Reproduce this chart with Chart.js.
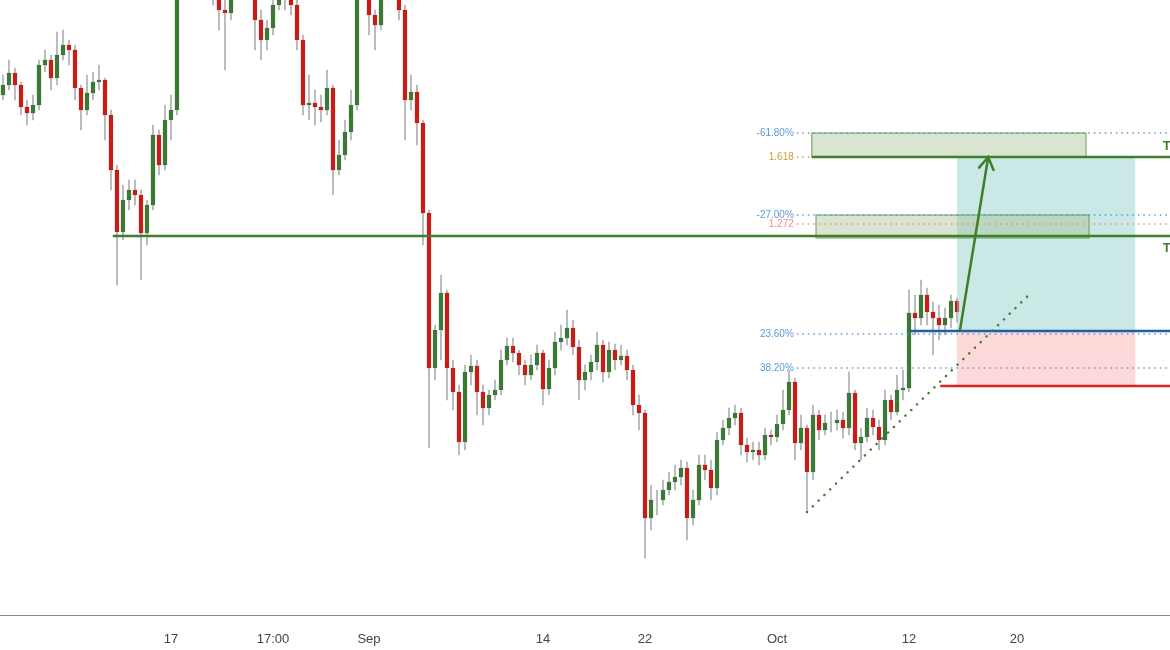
<!DOCTYPE html>
<html>
<head>
<meta charset="utf-8">
<script src="https://cdn.jsdelivr.net/npm/chart.js@4.4.0/dist/chart.umd.min.js"></script>
<style>
  body { margin: 0; background: #fff; overflow: hidden; }
  #outer { width: 1170px; height: 650px; overflow: hidden; }
  #wrap { width: 1182px; height: 650px; margin-left: -6px; }
</style>
</head>
<body>
<div id="outer"><div id="wrap"><canvas id="candles"></canvas></div></div>
<script>
// price data (points), one candle per slot
var opens = [605,615,627,615,593,587,595,635,640,622,645,655,650,612,590,607,618,620,585,530,
  468,500,510,505,467,495,565,535,580,590,730,740,755,745,730,720,705,690,687,705,
  725,735,715,680,660,672,695,710,705,695,660,595,597,593,590,612,530,545,568,595,
  720,730,685,675,710,730,720,690,600,608,577,487,332,370,407,332,308,258,328,334,
  308,292,305,310,340,354,347,335,325,335,347,311,332,358,362,372,353,320,328,338,
  355,328,350,340,344,330,295,287,182,200,200,210,218,223,232,182,200,235,230,212,
  260,272,282,287,255,248,250,245,265,263,276,290,318,257,272,228,285,270,277,277,
  280,272,307,257,263,282,273,260,300,288,310,312,387,382,405,388,382,375,382,399];
var closes = [615,627,615,593,587,595,635,640,622,645,655,650,612,590,607,618,620,585,530,468,
  500,510,505,467,495,565,535,580,590,730,740,755,745,730,720,705,690,687,705,725,
  735,715,680,660,672,695,710,705,695,660,595,597,593,590,612,530,545,568,595,720,
  730,685,675,710,730,720,690,600,608,577,487,332,370,407,332,308,258,328,334,308,
  292,305,310,340,354,347,335,325,335,347,311,332,358,362,372,353,320,328,338,355,
  328,350,340,344,330,295,287,182,200,200,210,218,223,232,182,200,235,230,212,260,
  272,282,287,255,248,250,245,265,263,276,290,318,257,272,228,285,270,277,277,280,
  272,307,257,263,282,273,260,300,288,310,312,387,382,405,388,382,375,382,399,388];
var highs = [625,640,632,618,600,605,640,650,645,668,670,660,655,615,625,628,635,622,590,535,
  515,520,520,510,500,575,570,595,605,740,755,770,765,750,735,725,710,700,712,735,
  745,740,720,690,680,705,720,718,712,700,665,625,610,605,630,615,560,580,610,735,
  745,735,690,720,740,738,725,695,625,615,580,490,375,425,410,340,315,335,345,340,
  315,310,320,350,362,362,350,340,345,355,350,340,368,375,390,380,360,335,345,368,
  360,358,356,355,350,335,305,290,215,210,220,228,235,240,238,210,245,245,240,268,
  280,292,295,292,262,258,258,272,270,285,310,330,322,285,275,295,290,285,288,290,
  288,328,310,272,292,290,280,310,305,325,330,410,405,420,412,398,395,392,405,402];
var lows = [600,610,600,585,575,580,590,628,610,615,640,635,600,570,585,600,610,560,510,415,
  460,490,495,420,455,490,525,530,560,585,720,735,735,720,710,695,670,630,680,700,
  715,705,650,640,650,665,690,690,685,650,585,580,575,578,585,505,525,540,560,590,
  715,665,650,670,700,710,680,560,590,555,455,252,320,340,300,290,245,250,315,285,
  275,285,300,305,335,338,325,315,320,330,295,305,325,350,355,345,300,310,320,330,
  318,322,330,335,320,285,270,142,170,185,195,205,210,215,160,175,195,220,200,205,
  255,265,275,245,238,240,235,240,255,258,270,285,240,250,190,220,260,265,268,270,
  262,265,250,240,258,265,250,255,280,285,300,308,365,375,375,345,360,365,372,378];

// x axis: 195 slots, only a few carry a label
var slotCount = 195;
var tickSlots = [28, 45, 61, 90, 107, 129, 151, 169];
var tickTexts = ['17', '17:00', 'Sep', '14', '22', 'Oct', '12', '20'];

// drawn levels (price) and their spans (slot index)
var supportLevel = 464, supportFrom = 18.3;
var targetLevel = 543, targetFrom = 134.8;
var fibBoxes = [[134.8, 180.5, 543, 567], [135.5, 181, 462, 485]];
var fibLines = [[567, '-61.80%', '#5b9bd5'], [485, '-27.00%', '#5b9bd5'], [476, '1.272', '#f08c8c'],
  [543, '1.618', '#c9a035'], [366, '23.60%', '#5b9bd5'], [332, '38.20%', '#5b9bd5']];
var entryLevel = 369, entryFrom = 151.2;
var stopLevel = 314, stopFrom = 156.2;
var tradeFrom = 159, tradeTo = 188.7;
var arrowPts = [[159.5, 370], [164.2, 543]];
var trendPts = [[134, 188], [170.8, 404]];

var labels = [];
for (var i = 0; i < slotCount; i++) labels.push('');
tickSlots.forEach(function (s, k) { labels[s] = tickTexts[k]; });

var wicks = opens.map(function (o, i) { return [lows[i], highs[i]]; });
var bodies = opens.map(function (o, i) { return [o, closes[i]]; });
var bodyColors = opens.map(function (o, i) { return closes[i] >= o ? '#3a7a35' : '#cc1a14'; });
var bodyBorders = opens.map(function (o, i) { return closes[i] >= o ? '#2a5c28' : '#8e1410'; });

var overlay = {
  id: 'overlay',
  afterDatasetsDraw: function (chart) {
    var c = chart.ctx, xs = chart.scales.x, ys = chart.scales.y, area = chart.chartArea;
    var X = function (v) { return xs.getPixelForValue(v); };
    var Y = function (v) { return ys.getPixelForValue(v); };
    var right = area.right + 6;
    c.save();
    // trade zones
    c.fillStyle = 'rgba(150,210,205,0.5)';
    c.fillRect(X(tradeFrom), Y(targetLevel), X(tradeTo) - X(tradeFrom), Y(entryLevel) - Y(targetLevel));
    c.fillStyle = 'rgba(252,185,185,0.55)';
    c.fillRect(X(tradeFrom), Y(entryLevel), X(tradeTo) - X(tradeFrom), Y(stopLevel) - Y(entryLevel));
    // fib boxes
    fibBoxes.forEach(function (b) {
      c.fillStyle = 'rgba(160,190,140,0.4)';
      c.strokeStyle = '#6a9a55';
      c.lineWidth = 1;
      c.fillRect(X(b[0]), Y(b[3]), X(b[1]) - X(b[0]), Y(b[2]) - Y(b[3]));
      c.strokeRect(X(b[0]), Y(b[3]), X(b[1]) - X(b[0]), Y(b[2]) - Y(b[3]));
    });
    // dotted fib lines with labels
    c.font = '10px "Liberation Sans", sans-serif';
    c.textAlign = 'right';
    c.textBaseline = 'middle';
    fibLines.forEach(function (f) {
      var y = Y(f[0]);
      c.strokeStyle = f[2];
      c.lineWidth = 1.5;
      c.setLineDash([1.5, 4]);
      c.beginPath();
      c.moveTo(X(132.3), y);
      c.lineTo(f[1] === '1.618' ? X(134.8) : right, y);
      c.stroke();
      c.setLineDash([]);
      c.fillStyle = f[2];
      c.fillText(f[1], X(132.3) - 3, y);
    });
    // solid levels
    var hline = function (level, from, col, w) {
      c.strokeStyle = col; c.lineWidth = w;
      c.beginPath(); c.moveTo(X(from), Y(level)); c.lineTo(right, Y(level)); c.stroke();
    };
    hline(supportLevel, supportFrom, '#3d7f2b', 2.5);
    hline(targetLevel, targetFrom, '#3d7f2b', 2.5);
    hline(entryLevel, entryFrom, '#1f5ea8', 2.5);
    hline(stopLevel, stopFrom, '#e5201c', 2.5);
    c.fillStyle = '#3d7f2b';
    c.font = 'bold 13px "Liberation Sans", sans-serif';
    c.textAlign = 'left';
    c.fillText('T', X(193.3), Y(targetLevel) - 11);
    c.fillText('T', X(193.3), Y(supportLevel) + 12);
    // trend line (dotted)
    c.strokeStyle = '#3d7f2b';
    c.lineWidth = 2.5;
    c.lineCap = 'round';
    c.setLineDash([0.1, 8]);
    c.beginPath();
    c.moveTo(X(trendPts[0][0]), Y(trendPts[0][1]));
    c.lineTo(X(trendPts[1][0]), Y(trendPts[1][1]));
    c.stroke();
    c.setLineDash([]);
    // arrow
    var ax0 = X(arrowPts[0][0]), ay0 = Y(arrowPts[0][1]), ax1 = X(arrowPts[1][0]), ay1 = Y(arrowPts[1][1]);
    c.lineWidth = 2.5;
    c.beginPath(); c.moveTo(ax0, ay0); c.lineTo(ax1, ay1); c.stroke();
    var ang = Math.atan2(ay1 - ay0, ax1 - ax0);
    c.beginPath();
    c.moveTo(ax1 - 14 * Math.cos(ang - 0.55), ay1 - 14 * Math.sin(ang - 0.55));
    c.lineTo(ax1, ay1);
    c.lineTo(ax1 - 14 * Math.cos(ang + 0.55), ay1 - 14 * Math.sin(ang + 0.55));
    c.stroke();
    c.restore();
  }
};

new Chart(document.getElementById('candles'), {
  type: 'bar',
  data: {
    labels: labels,
    datasets: [{
      data: wicks,
      backgroundColor: 'rgba(140,140,140,0.7)',
      barThickness: 1,
      grouped: false,
      order: 2
    }, {
      data: bodies,
      backgroundColor: bodyColors,
      borderColor: bodyBorders,
      borderWidth: 0.5,
      borderSkipped: false,
      barThickness: 4,
      grouped: false,
      order: 1
    }]
  },
  options: {
    responsive: true,
    maintainAspectRatio: false,
    animation: false,
    layout: { padding: 0 },
    plugins: { legend: { display: false }, tooltip: { enabled: false } },
    scales: {
      x: {
        grid: { display: false },
        border: { color: '#888' },
        ticks: { autoSkip: false, maxRotation: 0, color: '#444', padding: 9,
                 font: { size: 13, family: '"Liberation Sans", sans-serif' } },
        afterFit: function (s) { s.height = 35; }
      },
      y: { display: false, min: 85, max: 700 }
    }
  },
  plugins: [overlay]
});
</script>
</body>
</html>
